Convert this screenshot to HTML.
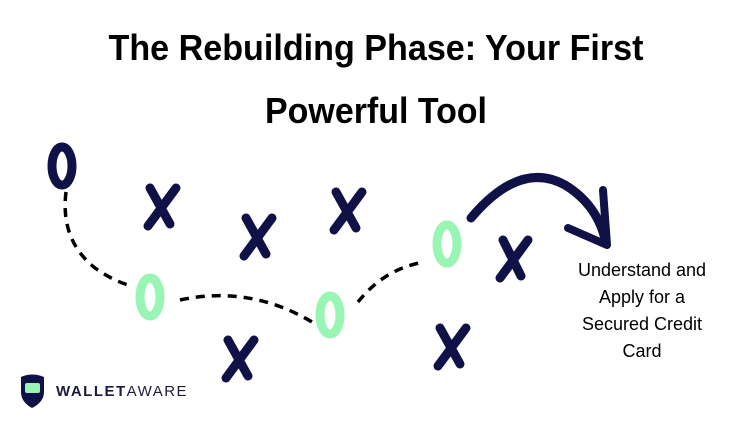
<!DOCTYPE html>
<html><head><style>
body{margin:0;background:#fff;}
svg{display:block}
</style></head><body>
<svg width="750" height="422" viewBox="0 0 750 422" xmlns="http://www.w3.org/2000/svg">
<rect width="750" height="422" fill="#fff"/>
<g font-family="Liberation Sans, sans-serif" font-weight="bold" font-size="36" fill="#000" text-anchor="middle">
<text x="376" y="60" textLength="535" lengthAdjust="spacingAndGlyphs">The Rebuilding Phase: Your First</text>
<text x="376" y="123" textLength="222" lengthAdjust="spacingAndGlyphs">Powerful Tool</text>
</g>
<g fill="none" stroke="#000" stroke-width="3.5" stroke-dasharray="9,7">
<path d="M66 192 Q60 240 95 268 Q115 282 132 286"/>
<path d="M180 300 Q250 285 312 322"/>
<path d="M358 302 Q385 268 425 262"/>
</g>
<g fill="none" stroke-linecap="round">
<ellipse cx="62" cy="166" rx="10" ry="19" stroke="#0f1147" stroke-width="9"/>
<ellipse cx="150" cy="297" rx="10" ry="19" stroke="#98f5b3" stroke-width="9"/>
<ellipse cx="330" cy="315" rx="10" ry="19" stroke="#98f5b3" stroke-width="9"/>
<ellipse cx="447" cy="244" rx="10" ry="19" stroke="#98f5b3" stroke-width="9"/>
</g>
<g stroke="#0f1147" stroke-width="9" stroke-linecap="round" fill="none">
<path d="M150 188 L170 224 M176 188 L148 226"/>
<path d="M246 218 L266 254 M272 218 L244 256"/>
<path d="M336 192 L356 228 M362 192 L334 230"/>
<path d="M503 240 L521 276 M528 240 L500 278"/>
<path d="M228 340 L248 376 M254 340 L226 378"/>
<path d="M440 328 L460 364 M466 328 L438 366"/>
</g>
<path d="M471 218 Q520 160 565 185 Q598 205 606 243" fill="none" stroke="#0f1147" stroke-width="9" stroke-linecap="round"/>
<path d="M568 228 L607 245 L603 190" fill="none" stroke="#0f1147" stroke-width="8" stroke-linecap="round" stroke-linejoin="round"/>
<g font-family="Liberation Sans, sans-serif" font-size="18" fill="#000" text-anchor="middle">
<text x="642" y="276">Understand and</text>
<text x="642" y="303">Apply for a</text>
<text x="642" y="330">Secured Credit</text>
<text x="642" y="357">Card</text>
</g>
<path d="M21 377 Q32 372 44 377 L44 392 Q44 402 32 408 Q21 402 21 392 Z" fill="#0f1147"/>
<rect x="25" y="383" width="15" height="10" rx="2" fill="#98f5b3"/>
<text x="56" y="396" font-family="Liberation Sans, sans-serif" font-size="15" letter-spacing="1.5" fill="#1a1c3a"><tspan font-weight="bold">WALLET</tspan>AWARE</text>
</svg>
</body></html>
